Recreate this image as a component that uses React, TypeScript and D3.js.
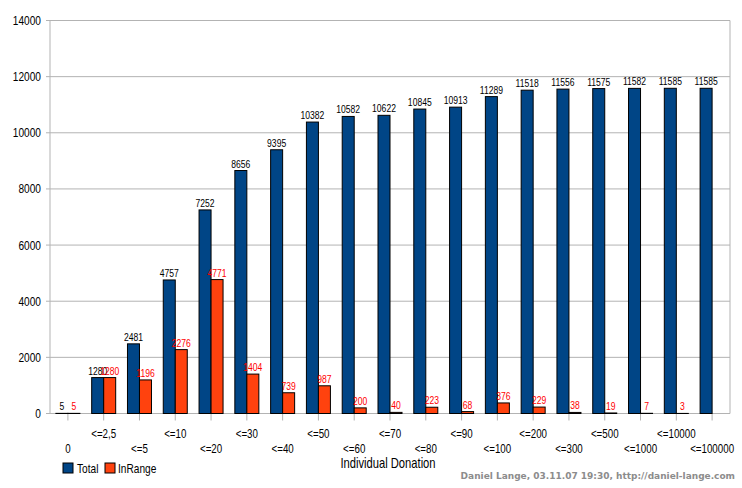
import React from 'react';
import * as d3 from 'd3';

// Donation buckets and cumulative counts
const CATEGORIES = [
  '0', '<=2,5', '<=5', '<=10', '<=20', '<=30', '<=40', '<=50', '<=60', '<=70',
  '<=80', '<=90', '<=100', '<=200', '<=300', '<=500', '<=1000', '<=10000', '<=100000',
];
const TOTAL = [
  5, 1280, 2481, 4757, 7252, 8656, 9395, 10382, 10582, 10622,
  10845, 10913, 11289, 11518, 11556, 11575, 11582, 11585, 11585,
];
const IN_RANGE = [
  5, 1280, 1196, 2276, 4771, 1404, 739, 987, 200, 40,
  223, 68, 376, 229, 38, 19, 7, 3, 0,
];
const Y_TICKS = [0, 2000, 4000, 6000, 8000, 10000, 12000, 14000];

const W = 742;
const H = 488;
const FONT = '"Liberation Sans", Arial, sans-serif';
const C_TOTAL = '#004586';
const C_RANGE = '#ff420e';

// narrow text: the original uses a condensed rendering of a sans font
const NText: React.FC<{
  x: number;
  y: number;
  size: number;
  anchor?: 'start' | 'middle' | 'end';
  fill?: string;
  sx?: number;
  children: React.ReactNode;
}> = ({ x, y, size, anchor = 'start', fill = '#000', sx = 0.78, children }) => (
  <text
    transform={`translate(${x},${y}) scale(${sx},1)`}
    textAnchor={anchor}
    fontSize={size}
    fill={fill}
  >
    {children}
  </text>
);

const App: React.FC = () => {
  const margin = { left: 50, right: 12, top: 20.5, bottom: 74.5 };
  const x = d3
    .scaleBand<string>()
    .domain(CATEGORIES)
    .range([margin.left, W - margin.right]);
  const y = d3.scaleLinear().domain([0, 14000]).range([H - margin.bottom, margin.top]);
  const barW = 12;
  const y0 = y(0);

  return (
    <svg
      width={W}
      height={H}
      style={{ position: 'absolute', left: 0, top: 0, background: '#fff' }}
      fontFamily={FONT}
    >
      {/* grid */}
      {Y_TICKS.map((t) => (
        <g key={t}>
          <line x1={margin.left - 4} x2={W - margin.right} y1={y(t)} y2={y(t)} stroke="#b3b3b3" />
          <NText x={margin.left - 9} y={y(t) + 4.5} size={13} anchor="end">
            {t}
          </NText>
        </g>
      ))}
      <line x1={margin.left} x2={margin.left} y1={y(14000)} y2={y0} stroke="#b3b3b3" />
      <line x1={W - margin.right} x2={W - margin.right} y1={y(14000)} y2={y0} stroke="#b3b3b3" />

      {/* category ticks and labels */}
      {CATEGORIES.map((c, i) => {
        const cx = x(c)! + x.bandwidth() / 2;
        return (
          <g key={c}>
            <line x1={cx} x2={cx} y1={y0} y2={y0 + 7} stroke="#b3b3b3" />
            <NText x={cx} y={i % 2 === 0 ? 453 : 438} size={13} anchor="middle" sx={0.75}>
              {c}
            </NText>
          </g>
        );
      })}

      {/* bars */}
      {CATEGORIES.map((c, i) => {
        const cx = x(c)! + x.bandwidth() / 2;
        return (
          <g key={c}>
            <rect
              x={cx - barW}
              y={y(TOTAL[i])}
              width={barW}
              height={y0 - y(TOTAL[i])}
              fill={C_TOTAL}
              stroke="#000"
              strokeWidth={1}
            />
            {IN_RANGE[i] > 0 && (
              <rect
                x={cx}
                y={y(IN_RANGE[i])}
                width={barW}
                height={y0 - y(IN_RANGE[i])}
                fill={C_RANGE}
                stroke="#000"
                strokeWidth={1}
              />
            )}
          </g>
        );
      })}

      {/* value labels */}
      {CATEGORIES.map((c, i) => {
        const cx = x(c)! + x.bandwidth() / 2;
        return (
          <g key={c}>
            <NText x={cx - barW / 2} y={y(TOTAL[i]) - 3} size={11} anchor="middle">
              {TOTAL[i]}
            </NText>
            {IN_RANGE[i] > 0 && (
              <NText x={cx + barW / 2} y={y(IN_RANGE[i]) - 3} size={11} anchor="middle" fill="#ff0000">
                {IN_RANGE[i]}
              </NText>
            )}
          </g>
        );
      })}

      {/* axis title */}
      <NText x={388} y={468} size={14} anchor="middle" sx={0.8}>
        Individual Donation
      </NText>

      {/* legend */}
      <rect x={63} y={463} width={10} height={10} fill={C_TOTAL} stroke="#000" />
      <NText x={77} y={473} size={13}>Total</NText>
      <rect x={105} y={463} width={10} height={10} fill={C_RANGE} stroke="#000" />
      <NText x={118} y={473} size={13}>InRange</NText>

      {/* credit */}
      <text
        x={735}
        y={479}
        textAnchor="end"
        fontSize={9}
        fontWeight="bold"
        fill="#8c8c8c"
        fontFamily='"DejaVu Sans", sans-serif'
      >
        Daniel Lange, 03.11.07 19:30, http://daniel-lange.com
      </text>
    </svg>
  );
};

export default App;
